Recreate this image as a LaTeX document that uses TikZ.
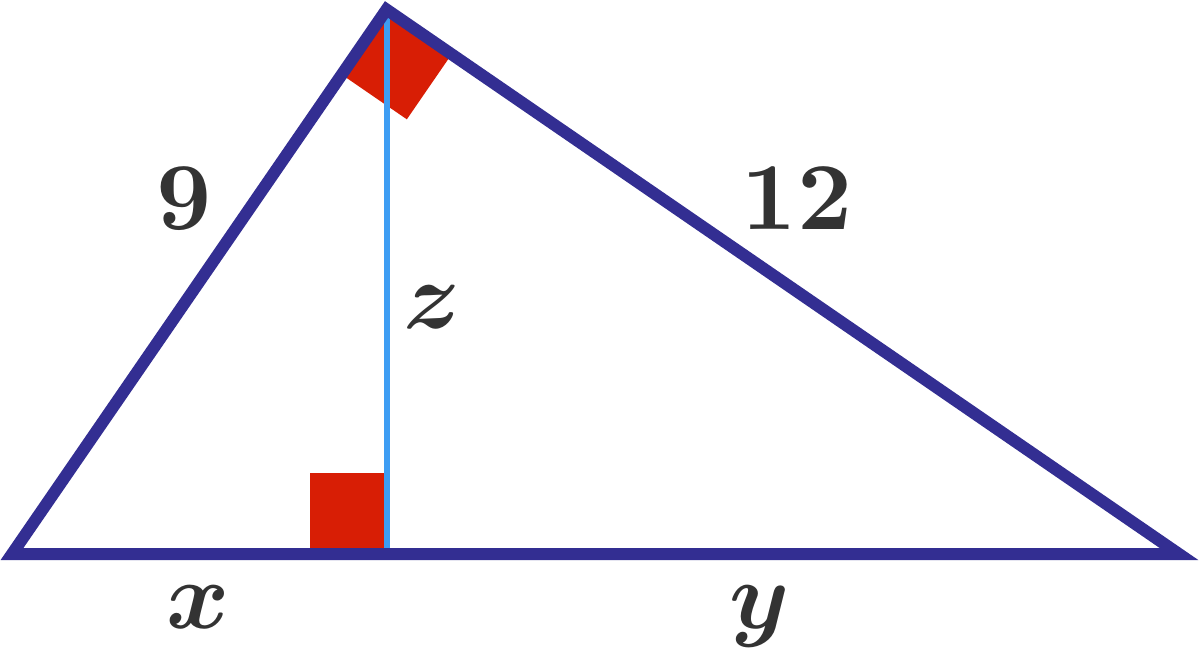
\documentclass[tikz,border=0pt]{standalone}
\usepackage{amsmath}
\usetikzlibrary{calc}
\definecolor{triblue}{RGB}{51,46,146}
\definecolor{sqred}{RGB}{216,30,5}
\definecolor{altblue}{RGB}{61,157,243}
\definecolor{txt}{RGB}{51,51,51}
\newcommand{\biglbl}[1]{\scalebox{4.8}{\boldmath$#1$}}
\tikzset{
  lbl/.style={text=txt, inner sep=0pt, anchor=base},
  side/.style={draw=triblue, line width=6pt, line join=miter},
  alt/.style={draw=altblue, line width=3pt},
  rmark/.style={fill=sqred}
}
\begin{document}
\begin{tikzpicture}[x=0.5pt,y=-0.5pt]
\useasboundingbox (0,0) rectangle (1200,648);
\coordinate (A) at (12,554);
\coordinate (B) at (386.5,9.5);
\coordinate (C) at (1179,554);
\coordinate (F) at (386.5,554);
% right angle marks
\coordinate (pA) at ($(B)!39.5pt!(A)$);
\coordinate (pC) at ($(B)!39.5pt!(C)$);
\fill[rmark] (B) -- (pA) -- ($(pA)+(pC)-(B)$) -- (pC) -- cycle;
\fill[rmark] (310,473) rectangle (386,554);
% altitude
\draw[alt] (B) -- (F);
% triangle
\draw[side] (A) -- (B) -- (C) -- cycle;
% labels
\node[lbl] (n9) at (184,229) {\biglbl{9}};
\node[lbl] (n12) at (797,229) {\biglbl{12}};
\node[lbl] (nz) at (432,328) {\biglbl{z}};
\node[lbl] (nx) at (198,628) {\biglbl{x}};
\node[lbl] (ny) at (760,628) {\biglbl{y}};
\end{tikzpicture}
\end{document}
